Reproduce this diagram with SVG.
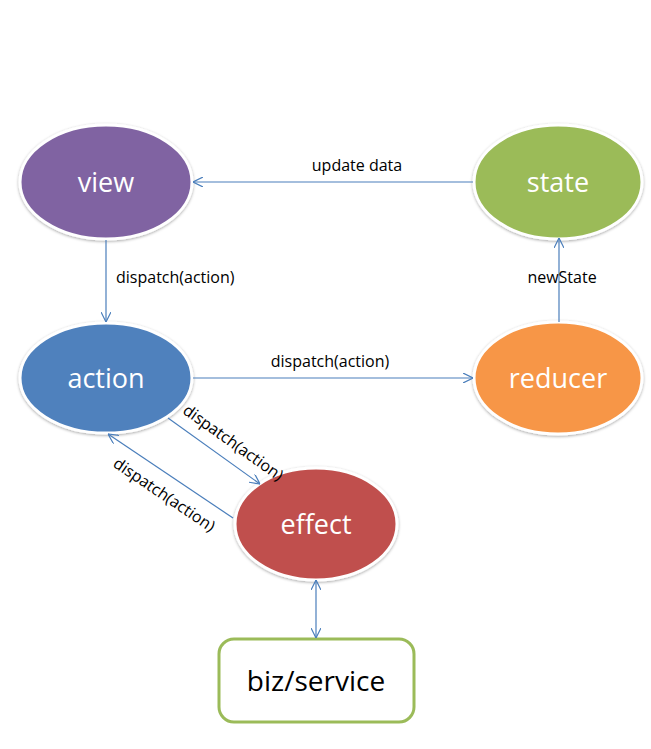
<svg xmlns="http://www.w3.org/2000/svg" width="651" height="749" viewBox="0 0 651 749">
<style>
.node{stroke:#fff;stroke-width:3;filter:url(#sh)}
.nt{font-family:"Open Sans","Liberation Sans",sans-serif;font-size:27px;fill:#fff;text-anchor:middle;dominant-baseline:central}
.lbl{font-family:"Open Sans","Liberation Sans",sans-serif;font-size:16px;fill:#000;text-anchor:middle}
.c{stroke:#4A7EBB;stroke-width:1.2;fill:none}
</style>
<defs>
<filter id="sh" x="-20%" y="-20%" width="140%" height="140%">
<feDropShadow dx="0" dy="1" stdDeviation="1.5" flood-color="#000" flood-opacity="0.35"/>
</filter>
<marker id="a" viewBox="0 0 10 10" refX="10" refY="5" markerWidth="10" markerHeight="10" markerUnits="userSpaceOnUse" orient="auto-start-reverse">
<path d="M0,0 L10,5 L0,10" fill="none" stroke="#4A7EBB" stroke-width="1.2"/>
</marker>
</defs>
<rect width="651" height="749" fill="#fff"/>
<g id="view"><ellipse class="node" cx="106" cy="182" rx="86" ry="57" fill="#8064A2"/><text class="nt" x="106" y="181">view</text></g>
<g id="state"><ellipse class="node" cx="558" cy="182" rx="84" ry="57" fill="#9BBB59"/><text class="nt" x="558" y="181">state</text></g>
<g id="action"><ellipse class="node" cx="106" cy="378" rx="86" ry="55" fill="#4F81BD"/><text class="nt" x="106" y="377">action</text></g>
<g id="reducer"><ellipse class="node" cx="558" cy="378" rx="84" ry="56" fill="#F79646"/><text class="nt" x="558" y="377">reducer</text></g>
<g id="effect"><ellipse class="node" cx="316" cy="524" rx="81" ry="56" fill="#C0504D"/><text class="nt" x="316" y="523">effect</text></g>
<g id="biz"><rect x="219" y="639" width="195" height="83" rx="15" fill="#fff" stroke="#9BBB59" stroke-width="3"/><text class="nt" x="316" y="680" style="fill:#000;font-size:28px">biz/service</text></g>
<g id="connectors">
<line class="c" x1="473" y1="182" x2="193" y2="182" marker-end="url(#a)"/>
<text class="lbl" x="357" y="171">update data</text>
<line class="c" x1="106" y1="240" x2="106" y2="322" marker-end="url(#a)"/>
<text class="lbl" x="116" y="283" style="text-anchor:start">dispatch(action)</text>
<line class="c" x1="559" y1="322" x2="559" y2="238" marker-end="url(#a)"/>
<text class="lbl" x="562" y="283">newState</text>
<line class="c" x1="193" y1="378" x2="473" y2="378" marker-end="url(#a)"/>
<text class="lbl" x="330" y="367">dispatch(action)</text>
<line class="c" x1="168" y1="418" x2="260" y2="484" marker-end="url(#a)"/>
<text class="lbl" transform="translate(233,443) rotate(35.5)" x="0" y="5">dispatch(action)</text>
<line class="c" x1="233" y1="518" x2="108" y2="434" marker-end="url(#a)"/>
<text class="lbl" transform="translate(164,495) rotate(34)" x="0" y="5">dispatch(action)</text>
<line class="c" x1="316" y1="580" x2="316" y2="638" marker-start="url(#a)" marker-end="url(#a)"/>
</g>
</svg>
